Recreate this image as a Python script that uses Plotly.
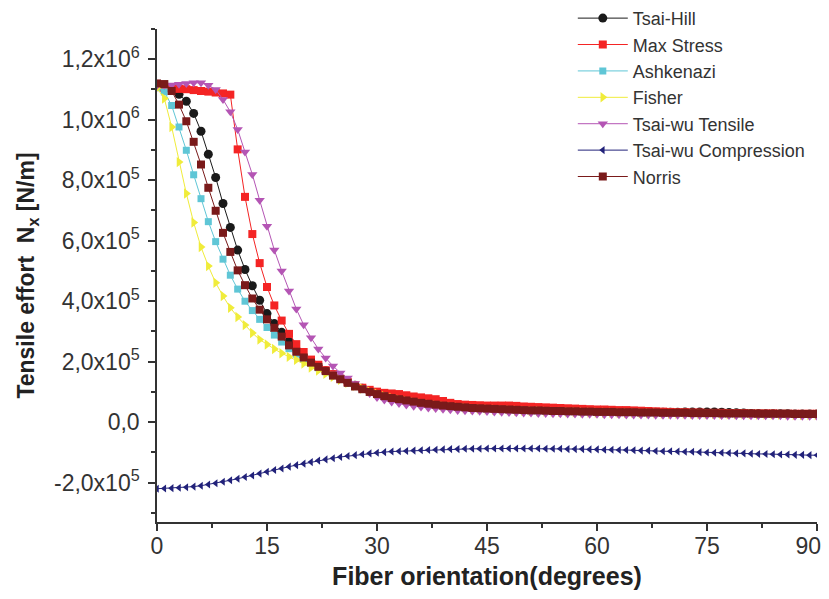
import plotly.graph_objects as go

# Fiber orientation (degrees)
angles = [0, 1, 2, 3, 4, 5, 6, 7, 8, 9, 10, 11, 12, 13, 14, 15, 16, 17, 18, 19, 20,
          21, 22, 23, 24, 25, 26, 27, 28, 29, 30, 31, 32, 33, 34, 35, 36, 37, 38, 39, 40,
          41, 42, 43, 44, 45, 46, 47, 48, 49, 50, 51, 52, 53, 54, 55, 56, 57, 58, 59, 60,
          61, 62, 63, 64, 65, 66, 67, 68, 69, 70, 71, 72, 73, 74, 75, 76, 77, 78, 79, 80,
          81, 82, 83, 84, 85, 86, 87, 88, 89, 90]

# Tensile effort Nx, in units of 1e5 N/m
tsai_hill = [11.10, 11.06, 11.02, 10.84, 10.61, 10.21, 9.62, 8.86, 8.09, 7.23, 6.44,
             5.69, 5.05, 4.51, 4.03, 3.59, 3.26, 2.97, 2.67, 2.39, 2.17,
             1.99, 1.84, 1.70, 1.57, 1.45, 1.33, 1.22, 1.12, 1.03, 0.95,
             0.88, 0.82, 0.77, 0.73, 0.69, 0.65, 0.62, 0.59, 0.56, 0.54,
             0.52, 0.50, 0.48, 0.47, 0.46, 0.45, 0.44, 0.43, 0.42, 0.41,
             0.40, 0.40, 0.39, 0.38, 0.38, 0.37, 0.37, 0.36, 0.36, 0.35,
             0.35, 0.35, 0.34, 0.34, 0.34, 0.33, 0.33, 0.33, 0.33, 0.33,
             0.33, 0.34, 0.34, 0.34, 0.34, 0.34, 0.33, 0.32, 0.31, 0.30,
             0.29, 0.29, 0.28, 0.28, 0.28, 0.28, 0.27, 0.27, 0.27, 0.27]

max_stress = [11.08, 11.05, 11.03, 11.02, 11.01, 10.98, 10.95, 10.93, 10.90, 10.87, 10.83,
              9.02, 7.45, 6.22, 5.26, 4.47, 3.86, 3.36, 2.92, 2.58, 2.32,
              2.07, 1.90, 1.72, 1.59, 1.44, 1.33, 1.22, 1.14, 1.07, 1.01,
              0.97, 0.95, 0.93, 0.89, 0.85, 0.82, 0.79, 0.76, 0.70, 0.64,
              0.60, 0.58, 0.57, 0.56, 0.55, 0.55, 0.55, 0.55, 0.54, 0.52,
              0.51, 0.50, 0.49, 0.48, 0.47, 0.46, 0.45, 0.44, 0.43, 0.42,
              0.42, 0.41, 0.40, 0.40, 0.39, 0.38, 0.37, 0.36, 0.35, 0.34,
              0.33, 0.33, 0.32, 0.32, 0.31, 0.31, 0.31, 0.30, 0.30, 0.30,
              0.29, 0.29, 0.29, 0.29, 0.28, 0.28, 0.28, 0.28, 0.28, 0.28]

ashkenazi = [11.06, 10.92, 10.47, 9.76, 8.99, 8.18, 7.39, 6.63, 5.97, 5.39, 4.86,
             4.40, 4.00, 3.69, 3.40, 3.13, 2.88, 2.65, 2.43, 2.25, 2.09,
             1.94, 1.80, 1.67, 1.55, 1.43, 1.31, 1.20, 1.10, 1.01, 0.93,
             0.86, 0.80, 0.75, 0.71, 0.67, 0.63, 0.60, 0.57, 0.54, 0.52,
             0.50, 0.48, 0.46, 0.45, 0.44, 0.43, 0.42, 0.41, 0.40, 0.39,
             0.38, 0.38, 0.37, 0.36, 0.36, 0.35, 0.35, 0.34, 0.34, 0.33,
             0.33, 0.33, 0.32, 0.32, 0.32, 0.31, 0.31, 0.31, 0.30, 0.30,
             0.30, 0.30, 0.29, 0.29, 0.29, 0.29, 0.28, 0.28, 0.28, 0.28,
             0.28, 0.27, 0.27, 0.27, 0.27, 0.27, 0.26, 0.26, 0.26, 0.26]

fisher = [11.05, 10.70, 9.76, 8.60, 7.56, 6.60, 5.79, 5.16, 4.61, 4.17, 3.78,
          3.48, 3.21, 2.95, 2.73, 2.57, 2.42, 2.28, 2.16, 2.06, 1.94,
          1.81, 1.71, 1.60, 1.50, 1.40, 1.30, 1.20, 1.11, 1.02, 0.94,
          0.86, 0.80, 0.74, 0.69, 0.65, 0.61, 0.58, 0.55, 0.52, 0.50,
          0.48, 0.46, 0.44, 0.43, 0.42, 0.41, 0.40, 0.39, 0.38, 0.37,
          0.36, 0.36, 0.35, 0.34, 0.34, 0.33, 0.33, 0.32, 0.32, 0.31,
          0.31, 0.31, 0.30, 0.30, 0.30, 0.29, 0.29, 0.29, 0.28, 0.28,
          0.28, 0.28, 0.27, 0.27, 0.27, 0.27, 0.26, 0.26, 0.26, 0.26,
          0.26, 0.25, 0.25, 0.25, 0.25, 0.25, 0.24, 0.24, 0.24, 0.24]

tsai_wu_tensile = [11.14, 11.14, 11.15, 11.17, 11.20, 11.22, 11.22, 11.14, 11.00, 10.67, 10.26,
                   9.68, 8.93, 8.19, 7.34, 6.48, 5.69, 5.00, 4.34, 3.74, 3.22,
                   2.79, 2.42, 2.12, 1.86, 1.63, 1.46, 1.28, 1.11, 0.95, 0.82,
                   0.73, 0.67, 0.62, 0.57, 0.53, 0.50, 0.47, 0.45, 0.43, 0.41,
                   0.39, 0.38, 0.37, 0.36, 0.35, 0.34, 0.33, 0.32, 0.31, 0.30,
                   0.30, 0.29, 0.29, 0.28, 0.28, 0.27, 0.27, 0.26, 0.26, 0.26,
                   0.25, 0.25, 0.25, 0.24, 0.24, 0.24, 0.24, 0.23, 0.23, 0.23,
                   0.23, 0.23, 0.22, 0.22, 0.22, 0.22, 0.22, 0.22, 0.21, 0.21,
                   0.21, 0.21, 0.21, 0.21, 0.21, 0.20, 0.20, 0.20, 0.20, 0.20]

tsai_wu_compression = [-2.20, -2.19, -2.18, -2.17, -2.15, -2.13, -2.10, -2.06, -2.02, -1.97, -1.92,
                       -1.87, -1.81, -1.76, -1.70, -1.64, -1.58, -1.53, -1.47, -1.42, -1.37,
                       -1.32, -1.27, -1.23, -1.19, -1.15, -1.12, -1.09, -1.06, -1.03, -1.01,
                       -0.99, -0.97, -0.96, -0.95, -0.94, -0.93, -0.92, -0.91, -0.90, -0.89,
                       -0.89, -0.88, -0.88, -0.88, -0.87, -0.87, -0.87, -0.87, -0.87, -0.87,
                       -0.87, -0.87, -0.88, -0.88, -0.88, -0.89, -0.89, -0.89, -0.90, -0.90,
                       -0.91, -0.91, -0.92, -0.92, -0.93, -0.94, -0.94, -0.95, -0.96, -0.96,
                       -0.97, -0.98, -0.98, -0.99, -1.00, -1.01, -1.01, -1.02, -1.03, -1.03,
                       -1.04, -1.05, -1.05, -1.06, -1.07, -1.07, -1.08, -1.08, -1.09, -1.09]

norris = [11.20, 11.18, 10.95, 10.50, 9.95, 9.27, 8.52, 7.75, 6.99, 6.26, 5.63,
          5.02, 4.53, 4.09, 3.72, 3.40, 3.12, 2.83, 2.54, 2.33, 2.14,
          1.97, 1.83, 1.69, 1.54, 1.42, 1.30, 1.18, 1.09, 1.00, 0.93,
          0.86, 0.80, 0.76, 0.72, 0.68, 0.64, 0.61, 0.58, 0.55, 0.53,
          0.51, 0.49, 0.47, 0.46, 0.45, 0.44, 0.43, 0.42, 0.41, 0.40,
          0.39, 0.39, 0.38, 0.37, 0.37, 0.36, 0.36, 0.35, 0.35, 0.34,
          0.34, 0.34, 0.33, 0.33, 0.33, 0.32, 0.32, 0.32, 0.31, 0.31,
          0.31, 0.31, 0.30, 0.30, 0.30, 0.30, 0.29, 0.29, 0.29, 0.29,
          0.29, 0.28, 0.28, 0.28, 0.28, 0.28, 0.27, 0.27, 0.27, 0.27]

x_tick_vals = [0, 15, 30, 45, 60, 75, 90]
x_tick_text = ["0", "15", "30", "45", "60", "75", "90\u2007\u2009"]
y_tick_vals = [-2, 0, 2, 4, 6, 8, 10, 12]
y_tick_text = ["-2,0x10<sup>5</sup>", "0,0", "2,0x10<sup>5</sup>", "4,0x10<sup>5</sup>",
               "6,0x10<sup>5</sup>", "8,0x10<sup>5</sup>", "1,0x10<sup>6</sup>",
               "1,2x10<sup>6</sup>"]

series = [
    ("Tsai-Hill", tsai_hill, "#1a1a1a", "circle", 9),
    ("Max Stress", max_stress, "#f42424", "square", 8),
    ("Ashkenazi", ashkenazi, "#5fc6d6", "square", 7),
    ("Fisher", fisher, "#f0ec3a", "triangle-right", 9),
    ("Tsai-wu Tensile", tsai_wu_tensile, "#b455b4", "triangle-down", 9),
    ("Tsai-wu Compression", tsai_wu_compression, "#22227a", "triangle-left", 7),
    ("Norris", norris, "#7a1a1a", "square", 8),
]

FONT = "Liberation Sans, Arial, sans-serif"

fig = go.Figure()
for name, vals, color, sym, size in series:
    fig.add_trace(go.Scatter(
        x=angles, y=vals, name=name, mode="lines+markers",
        line=dict(color=color, width=1),
        marker=dict(symbol=sym, size=size, color=color, line=dict(width=0)),
    ))

axis_common = dict(
    showline=True, linecolor="#333333", linewidth=1.5, mirror=False,
    showgrid=False, zeroline=False, ticks="outside", ticklen=7, tickwidth=1.5,
    tickcolor="#333333", tickfont=dict(family=FONT, size=23, color="#333333"),
    automargin=False, ticklabeloverflow="allow",
)

# the page body adds an 8px offset, so margins are shifted by 8px
fig.update_layout(
    width=829, height=591,
    margin=dict(l=149, r=20, t=21, b=77, autoexpand=False),
    paper_bgcolor="white", plot_bgcolor="white",
    font=dict(family=FONT, color="#333333"),
    xaxis=dict(
        range=[0, 90], tickmode="array", tickvals=x_tick_vals, ticktext=x_tick_text,
        minor=dict(tick0=0, dtick=7.5, ticks="outside", ticklen=4, tickcolor="#333333", tickwidth=1.5),
        title=dict(text="<b>Fiber orientation(degrees)</b>", font=dict(family=FONT, size=25, color="#222222"), standoff=9),
        ticklabelstandoff=-4,
        **axis_common,
    ),
    yaxis=dict(
        range=[-3.3, 13], tickmode="array", tickvals=y_tick_vals, ticktext=y_tick_text,
        minor=dict(tick0=0, dtick=1, ticks="outside", ticklen=4, tickcolor="#333333", tickwidth=1.5),
        title=dict(text="<b>Tensile effort  N<sub>x</sub> [N/m]</b>", font=dict(family=FONT, size=23, color="#222222"), standoff=13),
        ticklabelstandoff=4,
        **axis_common,
    ),
    legend=dict(
        x=0.63, y=1.059, xanchor="left", yanchor="top",
        font=dict(family=FONT, size=18, color="#333333"),
        bgcolor="rgba(0,0,0,0)", itemwidth=50, tracegroupgap=0,
    ),
)

fig.write_html("out.html")
